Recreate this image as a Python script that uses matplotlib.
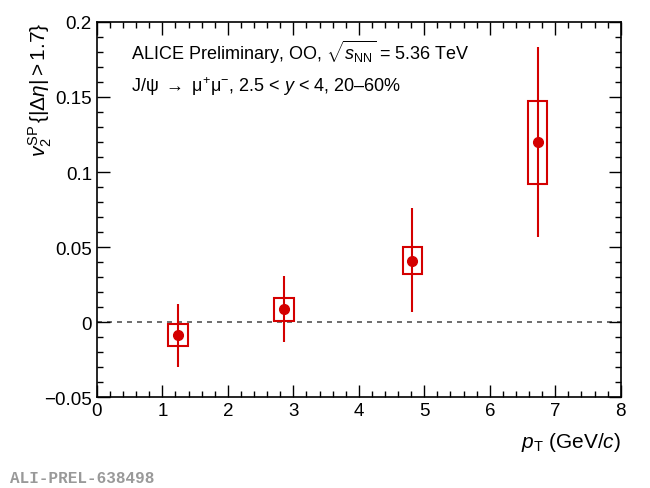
import matplotlib

matplotlib.use("Agg")
import matplotlib.pyplot as plt
from matplotlib.patches import Rectangle
from matplotlib.ticker import MultipleLocator
import numpy as np

plt.rcParams["font.family"] = ["Liberation Sans", "DejaVu Sans"]
plt.rcParams["mathtext.fontset"] = "custom"
plt.rcParams["mathtext.rm"] = "Liberation Sans"
plt.rcParams["mathtext.it"] = "Liberation Sans:italic"
plt.rcParams["mathtext.sf"] = "Liberation Sans"

# J/psi v2 vs pT
pt = np.array([1.24, 2.86, 4.82, 6.73])
v2 = np.array([-0.0087, 0.0085, 0.0410, 0.1198])
stat_lo = np.array([0.0213, 0.0220, 0.0343, 0.0633])
stat_hi = np.array([0.0210, 0.0220, 0.0350, 0.0632])
syst = np.array([0.0072, 0.0075, 0.0087, 0.0275])
box_halfwidth = 0.15

RED = "#d40000"

fig = plt.figure(figsize=(6.5, 4.89), dpi=100)
ax = fig.add_axes([0.149, 0.186, 0.806, 0.767])

ax.axhline(0, color="#555555", ls=(0, (3, 3)), lw=1.2, zorder=1)

for x, y, s in zip(pt, v2, syst):
    ax.add_patch(Rectangle((x - box_halfwidth, y - s), 2 * box_halfwidth, 2 * s,
                           fill=False, edgecolor=RED, lw=1.5, zorder=2))

ax.errorbar(pt, v2, yerr=[stat_lo, stat_hi], fmt="o", color=RED, ms=7,
            elinewidth=1.5, capsize=0, zorder=3)

ax.set_xlim(0, 8)
ax.set_ylim(-0.05, 0.2)
ax.xaxis.set_major_locator(MultipleLocator(1))
ax.xaxis.set_minor_locator(MultipleLocator(0.2))
ax.yaxis.set_minor_locator(MultipleLocator(0.01))
ax.set_yticks([-0.05, 0, 0.05, 0.1, 0.15, 0.2])
ax.set_yticklabels(["\u22120.05", "0", "0.05", "0.1", "0.15", "0.2"])
ax.tick_params(which="both", direction="in", top=True, right=True, labelsize=13.5)
ax.tick_params(which="major", length=9, width=1)
ax.tick_params(which="minor", length=4.5, width=1)
for sp in ax.spines.values():
    sp.set_linewidth(1.2)

ax.set_xlabel(r"$p_{\rm T}$ (GeV/$c$)", fontsize=15, loc="right", labelpad=8)
ax.set_ylabel(r"$v_2^{\rm SP}\,\{|\Delta\eta| > 1.7\}$", fontsize=15, loc="top", labelpad=-7)

ax.text(0.065, 0.9, r"ALICE Preliminary, OO, $\sqrt{s_{\rm NN}}$ = 5.36 TeV",
        transform=ax.transAxes, fontsize=13, va="baseline")
ax.text(0.065, 0.815, r"J/ψ $\rightarrow$ μ$^{+}$μ$^{-}$, 2.5 < $y$ < 4, 20–60%",
        transform=ax.transAxes, fontsize=13, va="baseline")

fig.text(0.015, 0.012, "ALI-PREL-638498", fontsize=11.5, color="#999999",
         family=["Liberation Mono", "DejaVu Sans Mono"], weight="bold")

fig.savefig("out.png", dpi=100)
